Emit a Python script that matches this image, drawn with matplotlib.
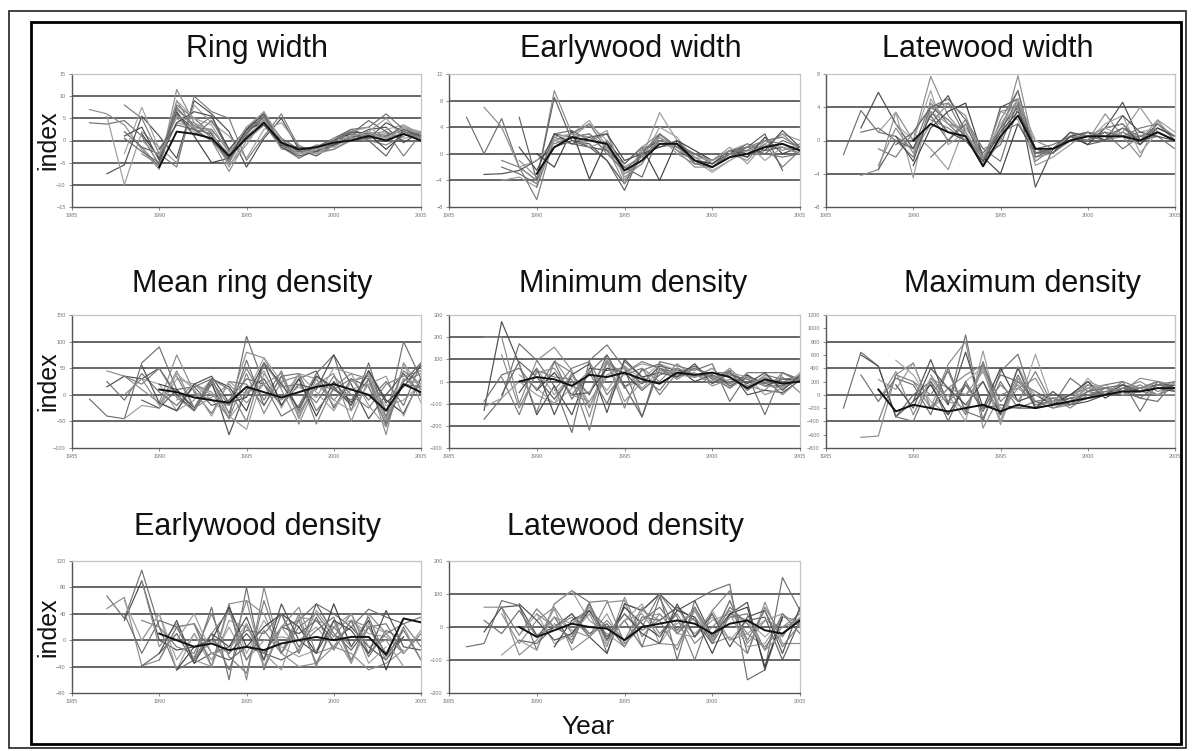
import numpy as np
import matplotlib.pyplot as plt
from matplotlib.patches import Rectangle

plt.rcParams['font.family'] = ['Liberation Sans', 'DejaVu Sans']

# every series: (first year, yearly index values)
ring_width = [
    (1986, [4.0, 3.7, 4.5, 1.0, -5.5, 8.0, 5.0, 1.5, -4.5, 1.5, 5.5, -1.0, -2.5, -1.5, 0.0, 1.5, 0.5, 1.0, 2.5, 1.0]),
    (1986, [7.0, 6.0, 3.5, -2.0, -6.5, 11.5, 4.0, 0.5, -3.0, 2.0, 6.5, 0.0, -3.0, -2.0, -1.0, 1.0, 2.0, 0.5, 3.5, 1.5]),
    (1987, [-7.5, -5.5, 5.5, 1.0, -4.0, 9.0, 6.0, 2.0, -6.0, 0.5, 5.0, -2.0, -3.5, -1.0, 0.5, 2.5, 3.0, -0.5, 2.0]),
    (1987, [5.5, -10.0, 2.0, -1.5, -5.0, 8.0, 4.0, 1.0, -4.0, 2.5, 4.0, -1.0, -3.0, -2.0, 0.5, 2.0, 5.0, 0.5, 1.0]),
    (1988, [8.0, 5.0, -3.0, -6.0, 10.0, 6.5, 5.0, -4.5, 1.0, 6.0, -1.5, -2.5, -2.0, 0.0, 1.5, 2.0, -3.5, 1.5]),
    (1988, [2.0, -1.5, -3.0, 6.0, 2.5, 1.5, -3.5, 3.0, 5.0, -0.5, -3.0, -1.5, 0.5, 2.5, 1.0, 1.0, 3.0, 1.0]),
    (1988, [-3.0, 7.5, -2.0, 5.0, 2.0, 0.0, -5.0, 2.0, 4.5, -2.0, -2.0, -3.0, -1.0, 0.5, 0.0, 2.5, 3.5, 0.5]),
    (1988, [0.5, -2.5, -5.0, 7.5, 3.0, 2.5, -2.5, 1.5, 5.5, 0.5, -2.0, -2.5, 0.0, 1.5, 4.5, 2.0, 0.0]),
    (1989, [-3.0, -5.5, 9.0, 2.5, 5.5, -3.0, 3.0, 6.0, -1.0, -4.0, -2.0, -0.5, 0.5, 0.0, -1.0, 1.0, 2.0]),
    (1989, [1.5, -4.0, 6.5, 1.0, -5.0, -4.0, 2.5, 4.0, 0.0, -2.5, -1.5, -1.0, 2.0, 1.5, -2.0, 1.5]),
    (1990, [-3.0, 4.0, 3.0, 2.0, -5.5, -1.0, 5.0, -1.5, -3.0, -2.5, 0.5, 1.0, 1.5, 0.0, 2.0, 0.5]),
    (1990, [-6.0, 2.0, 1.5, 0.5, -3.5, 0.5, 4.0, -0.5, -2.0, -1.5, -0.5, 0.0, 1.0, 0.0, 1.5, 0.0]),
    (1991, [6.0, 1.0, 4.5, -2.0, 2.5, 4.5, -1.0, -2.5, -2.5, 0.0, 2.5, 3.0, 6.0, 2.5]),
    (1992, [2.5, 0.0, -7.0, 0.0, 3.5, -1.5, -4.0, -2.0, -1.0, 0.5, 2.0, 0.5, 1.5, 0.5]),
    (1988, [1.0, 3.0, -4.5, 4.0, 6.5, 5.5, -2.0, 2.5, 6.0, -1.5, -3.5, -2.5, -1.0, 1.0, 0.5, 4.0, 2.0, 1.0]),
    (1989, [0.0, -3.5, 5.5, 4.0, 2.0, -6.0, 1.0, 4.5, -0.5, -2.0, -3.0, 0.0, 2.0, 3.0, 0.5, 3.0, 1.5]),
    (1989, [-1.5, -6.0, 7.0, 3.5, 1.0, -5.0, 2.0, 5.5, -1.0, -3.0, -1.0, -1.5, 1.0, 1.0, 1.5, 2.0, 0.5]),
    (1990, [-2.0, 3.5, 2.5, 0.0, -4.0, 1.0, 3.5, -1.0, -1.5, -2.0, 0.0, 2.0, 0.0, -3.5, 2.5, 1.0]),
    (1991, [9.0, 5.0, 3.5, -3.0, 3.0, 6.5, 0.0, -3.0, -2.0, -0.5, 1.0, 2.0, 0.0, 3.0, 2.0]),
]

earlywood_width = [
    (1986, [5.5, 0.0, 5.3, -2.0, -4.0, 3.0, 2.5, 1.0, 0.5, -2.0, -0.5, 2.0, 1.5, -1.0, -1.5, 0.0, 0.5, 2.0, 1.5, 0.0]),
    (1987, [7.0, 4.0, -2.0, -4.0, 9.5, 3.0, 2.5, 0.5, -3.0, -1.0, 1.5, 1.0, -0.5, -2.0, -0.5, 0.0, 1.0, 3.0, 0.5]),
    (1987, [-3.1, -3.0, -2.5, -1.0, 1.0, 2.0, 1.5, -1.0, -4.5, 0.0, 2.5, 0.5, -1.0, -2.0, 0.0, 1.5, 0.5, 1.0, 0.0]),
    (1988, [-4.0, -3.5, -5.0, 2.0, 3.0, 5.0, 1.0, -2.0, -0.5, 6.2, 2.0, -0.5, -2.5, -1.0, 0.5, 2.0, 2.5]),
    (1988, [-1.0, -2.0, -6.9, 2.5, 1.5, 2.0, 3.0, -3.0, -1.5, 3.0, 1.0, -1.0, -1.5, 0.0, -0.5, 1.5, -2.0, 0.5]),
    (1989, [5.5, -4.0, 8.5, 2.0, 1.0, -1.0, -5.5, 0.5, 2.0, 1.5, -1.5, -1.0, 0.5, 1.0, 3.0, -2.5]),
    (1989, [-2.0, -1.0, 2.0, 2.5, 4.5, 2.0, -3.0, -1.0, 4.0, 2.5, -1.0, -2.8, -1.0, 0.5, 1.0, 1.5, 0.5]),
    (1990, [-5.0, 3.0, 1.5, 1.0, 0.5, -2.0, -3.5, 3.0, 1.0, 0.0, -1.5, 0.0, 1.0, 0.0, 2.0, 1.0]),
    (1990, [-3.0, 1.0, 2.5, 2.0, 1.5, -2.5, -1.0, 1.5, 1.5, -1.0, -2.0, -0.5, 0.0, 1.0, 1.5, 0.5]),
    (1990, [0.0, -2.0, 3.5, -3.8, 2.0, -1.5, 1.0, -4.0, 2.0, 0.5, -1.0, 0.5, -0.5, 2.5, 0.0, 1.0]),
    (1991, [2.0, 1.5, 2.0, 3.5, -4.0, 0.5, 2.5, 0.0, -1.5, -1.0, 1.0, -1.5, 1.5, 3.0, 2.0]),
    (1992, [3.0, 4.5, 0.5, -1.5, 1.0, 1.0, 1.5, 0.0, -1.0, 0.5, 0.5, 0.0, -0.5, 0.0]),
    (1988, [-2.0, -3.0, -4.5, 3.0, 3.5, 2.0, 1.5, -2.5, -1.0, 2.0, 1.5, -1.5, -2.0, -0.5, 1.0, 1.0, 1.0, 0.0]),
    (1989, [-1.0, -3.5, 1.0, 2.5, 3.0, 1.0, -4.5, 1.0, 3.0, 0.5, -2.0, -2.0, 0.0, -1.0, 2.0, 0.5, 1.5]),
    (1989, [1.0, -2.5, 3.0, 1.5, 2.5, 3.0, -1.0, 0.0, 1.0, 2.0, -1.0, -1.5, 0.5, 0.0, 0.5, 3.5, 1.0]),
    (1990, [-4.5, 2.5, 3.0, 1.0, 2.0, -3.5, -1.5, 2.5, 0.5, -0.5, -1.0, 0.5, 1.5, -1.0, 1.0, 0.0]),
    (1991, [1.5, 2.5, 3.0, 0.0, -2.5, 0.0, 3.0, 1.0, -1.0, -2.0, 0.0, 1.0, 2.0, 2.5, 1.0]),
]

latewood_width = [
    (1986, [-1.7, 3.6, 1.0, 0.5, -1.0, 4.5, 2.0, 0.0, -2.0, 1.0, 5.0, -1.0, -0.5, 0.5, 0.0, 1.0, 0.5, 0.5, 1.5, 0.5]),
    (1987, [-4.2, -3.5, 3.4, 0.0, 7.7, 3.0, 0.5, -3.1, 0.0, 7.8, -1.5, -1.0, 0.5, 0.0, 3.2, 0.5, -2.0, 2.4, 0.0]),
    (1987, [1.5, 5.8, 2.0, -1.0, 3.0, 5.4, 1.0, -3.0, 4.0, 5.0, -5.6, -1.0, 1.0, 0.5, 1.5, 4.6, 0.0, 1.0, 0.0]),
    (1988, [1.0, 3.4, -4.5, 5.0, 2.0, 1.5, -1.5, 0.5, 3.0, 0.0, -1.0, 0.5, 1.0, 0.0, 0.5, 1.0, 1.5, 0.5]),
    (1988, [-1.0, -2.0, 1.0, 4.0, 4.5, 0.5, -3.1, 2.5, 6.0, -2.0, -1.5, 0.0, 0.5, 1.0, 0.5, -0.5, 2.0, 0.0]),
    (1988, [-3.5, 0.0, -1.0, 3.0, 0.0, 2.0, -2.5, 1.5, 4.0, -1.0, -1.5, 1.0, -0.5, 0.0, 1.0, 0.0, 0.5]),
    (1989, [2.0, 0.0, 6.0, -0.5, 1.0, -3.0, 3.5, 2.5, -2.5, -1.0, 0.5, 0.0, 2.0, 3.0, -1.5, 1.0, 0.0]),
    (1989, [-0.5, 1.0, 4.0, 5.0, 2.5, -2.0, -0.5, 4.5, -1.5, -1.0, 0.0, 1.0, 0.5, 1.5, 0.0, 2.0]),
    (1990, [0.0, 2.0, 1.0, 0.5, -3.1, 0.5, 3.0, -1.0, -1.0, 0.0, 0.5, 0.5, 0.5, 0.0, 1.0, 0.0]),
    (1990, [-3.0, 1.5, 3.5, 4.5, -2.0, -4.0, 2.0, -1.5, -1.5, 0.5, -0.5, 1.5, 2.0, -0.5, 1.5, 0.5]),
    (1990, [1.0, -1.0, -3.5, 2.0, -1.0, 0.0, 5.0, -3.0, -2.0, -0.5, 1.0, 0.0, 1.0, 4.0, 1.0]),
    (1991, [-2.0, 0.0, 2.5, -1.0, -2.5, 4.0, -1.5, -1.5, 0.5, 0.0, 1.0, -1.0, 0.5, 0.5, -1.0]),
    (1987, [1.0, 1.5, 0.0, -2.0, 4.0, 2.5, 0.5, -2.0, 1.5, 6.0, -2.0, -1.0, 0.0, 0.5, 0.0, 1.5, 0.5, 1.0, 0.0]),
    (1988, [-3.0, 1.5, -1.5, 2.0, 4.5, 3.0, -2.5, 3.5, 4.0, -2.5, -1.0, 0.5, 0.5, 1.5, 2.0, 0.0, 1.0]),
    (1989, [0.5, -2.5, 3.5, 1.0, 0.0, -2.5, 1.0, 3.5, -1.0, -1.5, 0.5, 1.0, 0.0, 3.0, 1.0, 0.5, 0.0]),
    (1990, [-1.5, 3.5, 2.0, 1.0, -2.0, 2.0, 5.0, 0.0, -1.0, 0.0, 0.5, 1.5, 0.5, 0.0, 2.5, 1.0]),
    (1991, [2.5, 1.5, 0.0, -1.5, 1.0, 2.0, -1.0, -1.5, 0.0, 1.0, 0.5, 0.5, 1.5, 2.0, 0.5]),
]

mean_density = [
    (1986, [-8, -40, -45, 60, 90, 10, -30, 20, -44, 110, 20, -40, -20, 40, 75, -30, 60, -45, 100, 30]),
    (1987, [45, 35, 10, -15, 75, 5, -10, -20, 80, 69, 10, -55, 20, 40, -50, 30, -75, 60, 10]),
    (1987, [15, 35, 30, 50, 0, -30, 25, -75, 10, 30, -20, 20, 10, 75, 20, -45, 0, 40, 0]),
    (1988, [-45, -20, -25, 30, 20, -10, -40, -65, 40, -10, 15, -5, 50, 40, -20, -60, 60, -15]),
    (1988, [35, 20, 50, -5, -30, 25, -20, 50, -10, 45, -35, 20, 10, -10, 40, -30, 45, 20]),
    (1989, [-10, -25, 10, 15, -20, -10, 30, 20, -20, 30, 45, -25, 30, 15, -55, 25, 60]),
    (1989, [30, 20, -30, -10, 30, -45, 0, 70, 25, -40, 20, -10, -30, 20, -20, -10, 20]),
    (1990, [10, 5, -5, -10, -15, 15, 5, -5, 5, 15, 20, 10, 0, -30, 20, 5]),
    (1990, [-15, -30, 20, 5, -45, 40, -35, 25, 35, -55, 15, 40, 30, -60, 25, 40]),
    (1990, [20, 10, -25, 30, 15, -30, 60, -20, 30, -40, 25, -15, 45, -10, -35, 30]),
    (1991, [-10, 20, 0, -20, 5, 20, -10, 40, 30, -20, 10, 20, 35, -40, 35]),
    (1992, [5, -35, 25, 20, -20, 35, 40, -30, 10, 30, -10, 25, -20, 60]),
    (1987, [25, -10, 40, 5, -20, 15, 30, -35, 65, -20, 35, -30, 35, 10, -15, 30, -40, 20, 15]),
    (1988, [0, 30, -20, 45, -25, -5, 20, -15, 20, 40, -45, 30, -10, 25, 35, -50, 30, 10]),
    (1989, [55, -15, -30, 20, 35, -15, -5, 60, 20, -25, 35, 15, -20, 45, -15, 15, 55]),
    (1990, [-25, 40, 10, -40, 25, 0, 45, -25, 40, 5, -30, 25, 40, -45, 30, 20]),
    (1991, [35, -25, 30, 10, -50, 60, 15, 20, -15, 35, 0, -25, 20, 35, 45]),
]

min_density = [
    (1987, [-170, -75, 170, 95, -20, -230, 95, 165, 60, -160, 90, 70, 50, 80, -90, 30, -150, 40, 10]),
    (1987, [200, 200, -100, 95, 155, 50, -160, 100, -20, 0, 50, 30, 40, -20, 10, -20, -40, 40, 0]),
    (1987, [-130, 270, 80, -150, -20, -150, 60, 50, 60, -10, 70, 50, 30, 0, 50, -60, -40, -50, 5]),
    (1987, [-115, -75, 0, -60, -100, 40, -100, -100, 40, 80, 60, 40, 60, 20, -30, 20, 0, -20, 10]),
    (1988, [20, -150, 50, 20, 10, -220, 90, 30, 60, -60, 40, 20, 40, 40, -40, 30, 10, 0]),
    (1988, [-60, 90, 20, -80, 30, -60, 120, -20, -160, 60, 30, 70, 10, 30, 10, -20, -20, 20]),
    (1989, [30, -30, -100, -30, 50, -40, 70, 10, 80, 50, 20, 40, 20, -30, 30, -30, 10]),
    (1989, [0, 20, 10, -20, 30, 20, 40, 10, -10, 40, 30, 40, 20, -30, 10, -10, 0]),
    (1989, [80, -140, 90, 40, -120, 90, -120, 60, 0, 80, 20, 60, -20, 20, -10, 20, -50]),
    (1990, [-40, 40, -60, -50, 60, 40, -40, 30, 60, 0, 30, -10, 30, -20, 10, 10]),
    (1991, [100, -20, -50, 100, -90, 0, 50, 30, 20, 60, -10, 20, -60, -30, 20]),
    (1992, [-60, 40, -100, 90, 20, -40, 60, 30, 20, -30, 40, 40, 40, 0]),
    (1987, [-90, 30, 60, -40, 90, -80, 40, 120, -30, 50, 80, 20, 60, 30, -20, 20, -10, 10, 20]),
    (1988, [120, -120, 40, 60, -60, -90, 30, 70, -40, 30, 60, 30, 0, 60, -20, 20, -30, 10]),
    (1989, [-50, 60, -150, 30, 80, -140, 100, 20, 40, 20, 80, -10, 40, -10, 40, -40, 30]),
    (1990, [60, -60, 30, -110, 20, 60, -30, 50, 40, 30, 0, 40, 20, -20, -30, 40]),
    (1991, [-40, 60, 90, -60, 40, 90, 60, 10, 60, 20, 40, -40, 10, -60, 10]),
]

max_density = [
    (1986, [-200, 640, 430, -330, -400, 200, -150, 900, -400, 350, 610, -200, -150, 250, 50, 150, 200, -250, 200, 100]),
    (1987, [-640, -620, 300, 480, -200, 460, 800, -500, 0, 100, -100, -50, 0, 150, 100, 50, 250, 200, 100]),
    (1987, [600, 430, -330, -100, 530, -150, 640, -200, -150, -200, -200, -150, -50, 0, 50, 0, 100, 150, 150]),
    (1988, [230, 80, 480, -200, 0, -400, 660, -400, 430, -100, -150, -100, 200, 100, 150, 100, 200, 50]),
    (1988, [-400, 300, 200, 0, 350, -250, 450, -100, 150, -150, -100, 0, 100, 0, 200, 100, 0, 150]),
    (1988, [80, -250, -150, -200, -250, -200, -150, -250, -150, -200, -150, -100, -50, 0, 50, 50, 100, 100]),
    (1989, [520, 300, -100, -300, 200, 420, -200, -200, 610, -150, -100, 250, 0, 100, 100, 200, 150]),
    (1989, [-330, 0, 200, -400, 200, -250, 300, 200, 50, -100, -50, -50, 100, 50, -50, -100, 200]),
    (1990, [200, -200, 100, 300, 450, -300, 200, -100, -50, -200, 0, 50, 50, 150, 0, 100]),
    (1990, [-100, 150, -300, 150, -200, 400, -100, 0, -150, 0, 200, -50, 100, 50, 100, 50]),
    (1991, [-200, 100, 0, 200, -400, 250, -150, -100, -100, 100, 100, 0, 50, 0, 0]),
    (1992, [100, -300, 500, -300, 300, -200, -50, -150, 50, 0, 150, -50, 150, 100]),
    (1987, [300, -100, 250, 150, -300, 400, -250, -350, 200, -200, -100, -200, -100, 50, 100, 150, 50, 150, 200]),
    (1988, [-100, 350, -300, 250, 100, 0, 350, -250, 100, 250, -200, -150, 150, 0, 100, 200, 50, 100]),
    (1989, [150, -200, 400, 100, -150, 200, -300, 400, -200, 50, -150, -100, 0, 150, 50, 100, 150]),
    (1990, [-300, 250, -100, -200, 400, -450, 250, 0, -100, -100, 100, 150, 0, 50, 200, 150]),
    (1991, [300, -100, 150, -200, 150, -100, 350, -150, -150, -50, 50, 100, 100, 200, 50]),
]

earlywood_density = [
    (1987, [67, 33, 106, 20, -45, -30, 50, -60, 80, -45, 20, 30, 55, 40, 20, 47, 35, 25, 35]),
    (1987, [48, 65, -39, -30, 20, 25, -40, 55, 60, 40, -20, -40, -35, -10, -20, -45, -35, -15]),
    (1988, [30, 90, 0, -15, -10, 0, -20, 10, -20, 20, 10, 30, 0, 20, -10, -30, 5]),
    (1988, [60, 0, 40, -45, 10, -30, 20, -30, 0, 5, 0, 20, -10, 30, 10, 5, -20]),
    (1989, [30, 20, -10, -20, 40, -25, -50, 60, -20, 20, 40, 5, 40, -20, 10, 25, -10]),
    (1989, [-39, -20, 10, -35, -20, -30, -10, -20, -30, -15, 55, 10, -15, 20, -20, 5]),
    (1989, [0, 40, -30, 10, -40, 50, -20, 30, -10, -25, -15, 20, 30, -35, -10]),
    (1990, [10, 0, -10, -5, -15, -10, -15, -5, 0, 5, 0, 5, 5, -22, 33, 27]),
    (1990, [-30, 20, 25, -40, 55, -60, 80, -20, 40, -40, 30, -35, 40, 10, -20]),
    (1991, [-45, -10, 0, 50, -10, 20, 40, 20, -20, 55, -10, 30, -45, 20]),
    (1991, [20, -30, -40, 30, 20, -20, -45, 35, 30, 20, 40, -10, 0, -40]),
    (1992, [25, -20, -10, 15, 10, 40, -10, 15, 35, -30, 20, 25, -20, 10]),
    (1988, [40, -20, 30, 20, -30, 10, -45, 25, -30, 40, -20, 35, -15, 30, -25, 15, 0]),
    (1989, [90, -10, 25, -30, 0, -20, 60, -40, 20, 50, -20, -10, 30, 20, -30, 20, -30]),
    (1990, [-20, 30, -35, 10, -10, 35, -30, 55, 0, -20, 30, 15, -20, 45, -10, -15]),
    (1991, [0, 40, -20, -15, 25, -40, 20, -15, 45, 10, -35, 25, 10, -20, 15]),
    (1992, [-25, 10, 45, -30, 15, -20, 30, -35, 20, -10, 35, -25, 15, -30]),
]

latewood_density = [
    (1986, [-60, -50, 80, 65, -70, 70, 110, 75, -80, 70, 50, 100, -100, 80, 110, 130, -160, -130, 150, 50]),
    (1987, [60, 60, -85, -40, 55, -70, -30, 75, 80, -60, -50, -55, 50, -50, -30, -80, 75, -50, -50]),
    (1987, [-15, 60, 65, -25, 0, 40, -30, -80, 70, 50, 100, 50, 80, -30, 40, 75, -130, 30]),
    (1988, [-85, -40, -70, 70, 110, 20, -20, -60, 50, 20, 60, -30, 20, 40, -60, -50, 30, 20]),
    (1988, [60, -25, 55, 0, -30, 75, 80, -50, 0, 100, 30, -100, 50, 110, -80, 60, -30, 50]),
    (1989, [-40, -50, 0, 40, -20, 10, -60, 30, 20, 60, 20, -50, 40, 20, 30, -100, 20]),
    (1989, [-25, 40, -50, -20, 60, -40, 20, 70, -50, 20, -20, 30, -40, 20, -30, 20]),
    (1989, [0, -30, -10, 10, 0, -5, -40, 0, 10, 20, 10, -20, 10, 20, -10, -20, 20]),
    (1990, [40, 0, 30, -30, 20, -40, 60, -20, 40, -50, 0, 50, -20, -60, 0, 20]),
    (1991, [-60, 20, 50, -40, 60, 10, -30, 50, 30, -80, 40, 60, -120, 30]),
    (1991, [30, -10, -30, 40, -60, 30, 40, -20, -30, 50, -40, -20, 20, 40, 0]),
    (1992, [10, 50, 0, -40, 20, 60, -10, 60, -40, 30, 40, -70, -20, 25]),
    (1987, [20, -20, 50, -30, 30, -50, 70, -40, 20, -60, 90, -20, 30, -40, 60, 10, -70, 40, -20]),
    (1988, [40, -50, 20, 60, -20, 40, -60, 90, -30, 40, -20, 60, -40, 80, -50, 20, 0, 40]),
    (1989, [70, 20, -40, -20, 50, -30, 40, -20, -50, 70, -30, 40, -60, 30, 50, -80, 60]),
    (1990, [-50, 30, 10, 60, -50, 20, 40, -30, 10, 50, -40, 30, 20, -70, -20, 30]),
    (1991, [10, -40, 70, -30, 40, -10, 20, -70, 60, -30, 80, -40, 50, -60, 10]),
]

# title, series, y limits, label step, grid step, column, row, title x, index of the dark chronology
panels = [
    ('Ring width', ring_width, (-15, 15), 5, 5, 0, 0, 257, 11),
    ('Earlywood width', earlywood_width, (-8, 12), 4, 4, 1, 0, 631, 8),
    ('Latewood width', latewood_width, (-8, 8), 4, 4, 2, 0, 988, 8),
    ('Mean ring density', mean_density, (-100, 150), 50, 50, 0, 1, 252, 7),
    ('Minimum density', min_density, (-300, 300), 100, 100, 1, 1, 633, 7),
    ('Maximum density', max_density, (-800, 1200), 200, 400, 2, 1, 1022, 5),
    ('Earlywood density', earlywood_density, (-80, 120), 40, 40, 0, 2, 258, 7),
    ('Latewood density', latewood_density, (-200, 200), 100, 100, 1, 2, 625, 7),
]

greys = ['#707070', '#8c8c8c', '#4e4e4e', '#9c9c9c', '#7c7c7c', '#606060',
         '#a2a2a2', '#686868', '#858585', '#404040', '#979797', '#747474']

W, H = 1193, 751
fig = plt.figure(figsize=(W / 100, H / 100), dpi=100)

cols = [(72, 349), (449, 351), (826, 349)]
rows = [(74, 133), (315, 133), (561, 132)]
title_base = [57, 292, 535]

for title, series, ylim, step, gstep, c, r, tx, dark in panels:
    x0, w = cols[c]
    y0, h = rows[r]
    ax = fig.add_axes([x0 / W, 1 - (y0 + h) / H, w / W, h / H])
    for k in np.arange(ylim[0] + gstep, ylim[1], gstep):
        ax.axhline(k, color='#4d4d4d', lw=1.2, zorder=1)
    for i, (start, vals) in enumerate(series):
        yrs = np.arange(start, start + len(vals))
        if i == dark:
            ax.plot(yrs, vals, color='#111111', lw=1.4, zorder=3)
        else:
            ax.plot(yrs, vals, color=greys[i % len(greys)], lw=0.85, zorder=2)
    ax.set_xlim(1985, 2005)
    ax.set_ylim(*ylim)
    ax.set_xticks([1985, 1990, 1995, 2000, 2005])
    ax.set_yticks(np.arange(ylim[0], ylim[1] + step / 2, step))
    ax.tick_params(labelsize=4, colors='#777777', length=2.5, width=0.6, pad=2)
    for s in ['top', 'right']:
        ax.spines[s].set_color('#c4c4c4')
        ax.spines[s].set_linewidth(0.9)
    for s in ['left', 'bottom']:
        ax.spines[s].set_color('#555555')
        ax.spines[s].set_linewidth(1.0)
    fig.text(tx / W, 1 - title_base[r] / H, title, fontsize=22, ha='center',
             va='baseline', color='#111111')

for yc in [140, 381, 627]:
    fig.text(48 / W, 1 - yc / H, 'index', fontsize=18, rotation=90,
             ha='center', va='center', color='#111111')
fig.text(588 / W, 1 - 727 / H, 'Year', fontsize=19, ha='center', va='center',
         color='#111111')

# double frame round the figure
fig.patches.append(Rectangle((9 / W, 1 - 748 / H), 1177 / W, 737 / H,
                             transform=fig.transFigure, fill=False,
                             edgecolor='#222222', lw=1.2))
fig.patches.append(Rectangle((31 / W, 1 - 744 / H), 1150 / W, 722 / H,
                             transform=fig.transFigure, fill=False,
                             edgecolor='#000000', lw=2.0))

fig.savefig('out.png', dpi=100)
